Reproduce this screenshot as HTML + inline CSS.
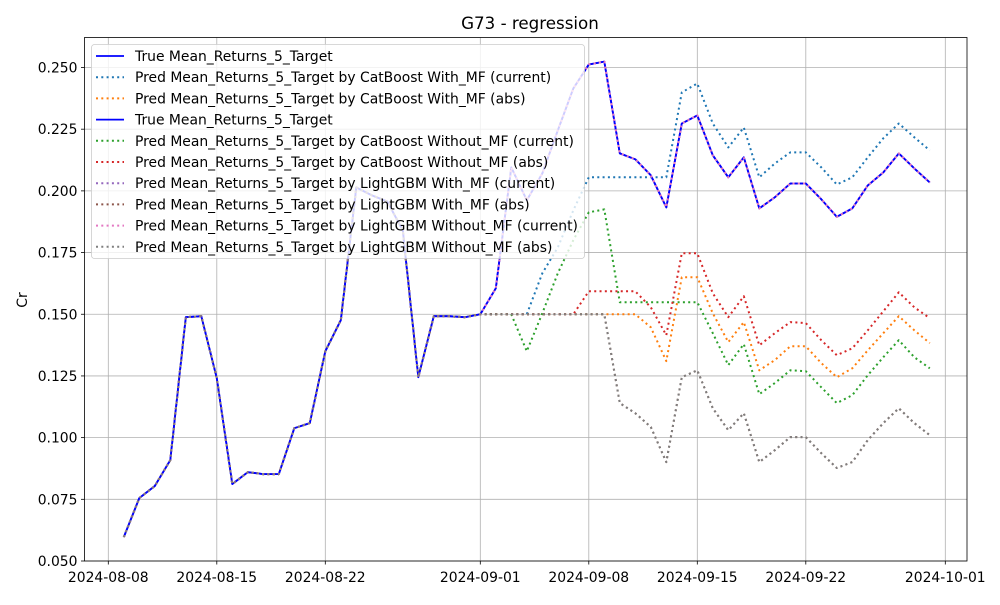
<!DOCTYPE html>
<html><head><meta charset="utf-8"><style>
body{margin:0;background:#fff;}
svg text{font-family:"DejaVu Sans","Liberation Sans",sans-serif;}
</style></head><body>
<svg id="chart" width="1000" height="600" xmlns="http://www.w3.org/2000/svg">
<rect width="1000" height="600" fill="#fff"/>
<g id="grid"></g>
<g id="series"></g>
<g id="axes"></g>
<g id="legend"></g>
<text x="530" y="29" text-anchor="middle" font-size="16.7">G73 - regression</text>
<text x="27" y="300" text-anchor="middle" font-size="13.9" transform="rotate(-90 27 300)">Cr</text>
</svg>
<script>
const trueVals=[0.0597,0.0755,0.0804,0.0909,0.1488,0.1492,0.1241,0.0812,0.0860,0.0852,0.0852,0.1038,0.1059,0.1350,0.1476,0.2014,0.1982,0.1957,0.1840,0.1245,0.1492,0.1492,0.1488,
0.1500,0.1605,0.2095,0.1962,0.2071,0.2245,0.2415,0.2512,0.2524,0.2152,0.2128,0.2063,0.1933,0.2273,0.2306,0.2144,0.2055,0.2136,0.1929,0.1974,0.2030,0.2030,0.1966,0.1895,0.1929,0.2022,0.2075,0.2152,0.2091,0.2034];
const cbWithCur=[0.15,0.15,0.15,0.15,0.1666,0.1771,0.1921,0.2055,0.2055,0.2055,0.2055,0.2055,0.2055,0.2399,0.2435,0.2273,0.2176,0.2257,0.2055,0.2111,0.2156,0.2156,0.2095,0.2026,0.2055,0.2136,0.2213,0.2273,0.2217,0.2164];
const cbWithAbs=[0.15,0.15,0.15,0.15,0.15,0.15,0.15,0.15,0.15,0.15,0.15,0.1447,0.1310,0.1650,0.1650,0.1504,0.1387,0.1468,0.1273,0.1314,0.1370,0.1370,0.1302,0.1245,0.1281,0.1354,0.1423,0.1492,0.1435,0.1383];
const cbWithoutCur=[0.15,0.15,0.15,0.135,0.1504,0.1666,0.1800,0.1913,0.1925,0.1549,0.1549,0.1549,0.1549,0.1549,0.1549,0.1423,0.1294,0.1379,0.1176,0.1221,0.1273,0.1269,0.1204,0.1140,0.1172,0.1253,0.1326,0.1395,0.1326,0.1281];
const cbWithoutAbs=[0.15,0.15,0.15,0.15,0.15,0.15,0.15,0.1593,0.1593,0.1593,0.1593,0.1528,0.1415,0.1747,0.1747,0.1585,0.1488,0.1573,0.1374,0.1423,0.1468,0.1464,0.1395,0.1334,0.1362,0.1435,0.1512,0.1589,0.1528,0.1484];
const lgbAbs=[0.15,0.15,0.15,0.15,0.15,0.15,0.15,0.15,0.15,0.1140,0.1099,0.1043,0.0901,0.1245,0.1273,0.1119,0.1030,0.1099,0.0901,0.0949,0.1002,0.1002,0.0937,0.0877,0.0901,0.0990,0.1059,0.1119,0.1059,0.1010];
const splitIndex=23;
const yTicks=[0.050,0.075,0.100,0.125,0.150,0.175,0.200,0.225,0.250];
const xTickDays=[0,7,14,24,31,38,45,54];
const xTickLabels=["2024-08-08","2024-08-15","2024-08-22","2024-09-01","2024-09-08","2024-09-15","2024-09-22","2024-10-01"];
const firstDay=1;
const L=84.5,R=967,T=37.5,B=561;
const xs=d=>108.3+d*15.5;
const ys=v=>561-(v-0.05)*2467.5;
const NS="http://www.w3.org/2000/svg";
function mk(tag,attrs,parent){const e=document.createElementNS(NS,tag);for(const k in attrs)e.setAttribute(k,attrs[k]);parent.appendChild(e);return e;}
const grid=document.getElementById('grid'),axes=document.getElementById('axes'),ser=document.getElementById('series'),leg=document.getElementById('legend');
yTicks.forEach(v=>{const y=ys(v);
 const g=mk('line',{x1:L,x2:R,y1:y,y2:y,stroke:'#b0b0b0','stroke-width':0.8},grid);
 
 
 const t=mk('line',{x1:L-3.5,x2:L,y1:y,y2:y,stroke:'#000','stroke-width':0.8},axes);
 
 
 const tx=mk('text',{x:L-7,y:y+5,'text-anchor':'end','font-size':13.9},axes);tx.textContent=v.toFixed(3);
 
 
});
xTickDays.forEach((d,i)=>{const x=xs(d);
 const g=mk('line',{x1:x,x2:x,y1:T,y2:B,stroke:'#b0b0b0','stroke-width':0.8},grid);
 
 
 const t=mk('line',{x1:x,x2:x,y1:B,y2:B+3.5,stroke:'#000','stroke-width':0.8},axes);
 
 
 const tx=mk('text',{x:x,y:B+21,'text-anchor':'middle','font-size':13.9},axes);tx.textContent=xTickLabels[i];
 
 
});
const frame=mk('rect',{x:L,y:T,width:R-L,height:B-T,fill:'none',stroke:'#000','stroke-width':0.8},axes);


const full=a=>trueVals.slice(0,splitIndex).concat(a);
const seriesList=[
 {n:'True Mean_Returns_5_Target',c:'#0000ff',v:trueVals,s:false,id:'true-line'},
 {n:'Pred Mean_Returns_5_Target by CatBoost With_MF (current)',c:'#1f77b4',v:full(cbWithCur),s:true,id:'catboost-with-mf-current'},
 {n:'Pred Mean_Returns_5_Target by CatBoost With_MF (abs)',c:'#ff7f0e',v:full(cbWithAbs),s:true,id:'catboost-with-mf-abs'},
 {n:'True Mean_Returns_5_Target',c:'#0000ff',v:trueVals,s:false,id:'true-line-2'},
 {n:'Pred Mean_Returns_5_Target by CatBoost Without_MF (current)',c:'#2ca02c',v:full(cbWithoutCur),s:true,id:'catboost-without-mf-current'},
 {n:'Pred Mean_Returns_5_Target by CatBoost Without_MF (abs)',c:'#d62728',v:full(cbWithoutAbs),s:true,id:'catboost-without-mf-abs'},
 {n:'Pred Mean_Returns_5_Target by LightGBM With_MF (current)',c:'#9467bd',v:trueVals,s:true,id:'lightgbm-with-mf-current'},
 {n:'Pred Mean_Returns_5_Target by LightGBM With_MF (abs)',c:'#8c564b',v:full(lgbAbs),s:true,id:'lightgbm-with-mf-abs'},
 {n:'Pred Mean_Returns_5_Target by LightGBM Without_MF (current)',c:'#e377c2',v:trueVals,s:true,id:'lightgbm-without-mf-current'},
 {n:'Pred Mean_Returns_5_Target by LightGBM Without_MF (abs)',c:'#7f7f7f',v:full(lgbAbs),s:true,id:'lightgbm-without-mf-abs'}
];
seriesList.forEach(s=>{
 const pts=s.v.map((v,i)=>xs(firstDay+i).toFixed(1)+','+ys(v).toFixed(1)).join(' ');
 const p=mk('polyline',{points:pts,fill:'none',stroke:s.c,'stroke-width':s.s?2:1.8,'stroke-linejoin':'round'},ser);
 if(s.s)p.setAttribute('stroke-dasharray','2 3.3');
 
 
});
const lb=mk('rect',{x:91.5,y:44.5,width:493,height:214,rx:3,fill:'#fff','fill-opacity':0.8,stroke:'#cccccc','stroke-width':0.8},leg);


seriesList.forEach((s,i)=>{const y=56+i*21.2;
 const h=mk('line',{x1:96,x2:124,y1:y,y2:y,stroke:s.c,'stroke-width':s.s?2:1.8},leg);
 if(s.s)h.setAttribute('stroke-dasharray','2 3.3');
 
 
 const t=mk('text',{x:135,y:y+5,'font-size':13.9},leg);t.textContent=s.n;
 
 
});
</script>
</body></html>
